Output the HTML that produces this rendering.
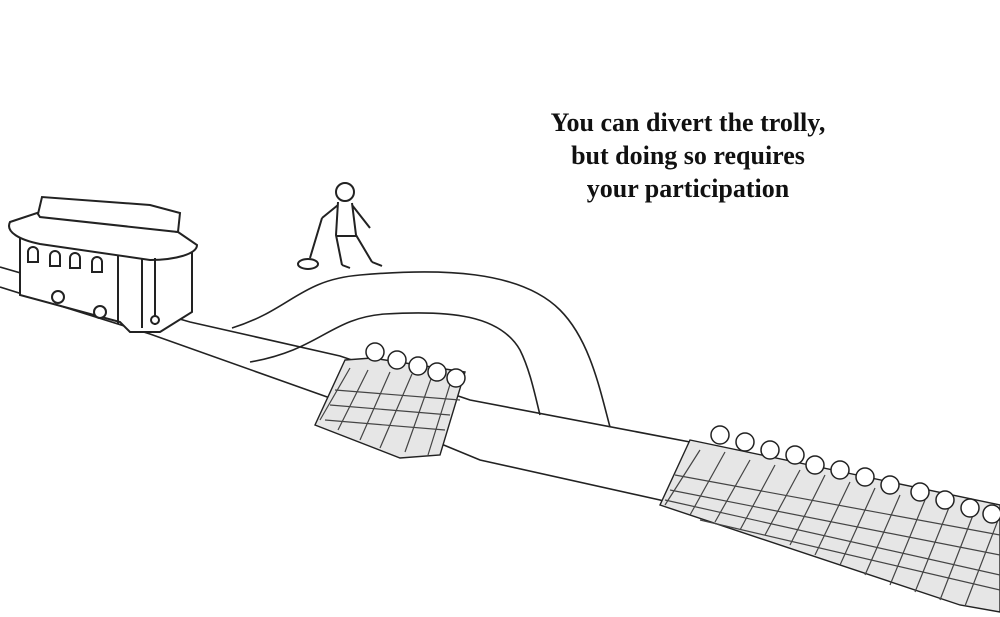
<!DOCTYPE html>
<html><head><style>
html,body{margin:0;padding:0;background:#fff;width:1000px;height:617px;overflow:hidden}
.t{position:absolute;left:473px;top:106px;width:430px;text-align:center;font-family:"Liberation Serif",serif;font-weight:bold;font-size:26px;line-height:33px;color:#111}
</style></head><body>
<svg width="1000" height="617" style="position:absolute;left:0;top:0" fill="none" stroke="#222" stroke-width="1.6">
<path d="M0,267 L190,322 L340,356 L470,400 L690,442 L1000,508"/>
<path d="M0,287 L150,334 L330,398 L480,460 L660,500 L1000,603"/>
<path d="M232,328 C290,310 300,280 360,275 C440,268 520,270 560,310 C590,340 600,390 610,427"/>
<path d="M250,362 C320,350 330,318 385,314 C450,310 500,315 520,350 C530,370 535,395 540,415"/>
<g stroke-width="2" fill="#fff">
<path d="M20,235 L20,295 L120,322 L130,332 L160,332 L192,312 L192,250 Z"/>
<path d="M10,222 C5,232 20,240 40,244 L150,260 C175,260 197,254 197,245 L178,232 L40,212 Z"/>
<path d="M38,214 L42,197 L150,205 L180,213 L178,232 L40,217 Z"/>
<path d="M118,256 L118,324 M142,258 L142,328 M155,258 L155,325"/>
<path d="M28,262 v-10 a5,5 0 0 1 10,0 v10 Z M50,266 v-10 a5,5 0 0 1 10,0 v10 Z M70,268 v-10 a5,5 0 0 1 10,0 v10 Z M92,272 v-10 a5,5 0 0 1 10,0 v10 Z"/>
<circle cx="58" cy="297" r="6"/><circle cx="100" cy="312" r="6"/><circle cx="155" cy="320" r="4"/>
</g>
<g stroke-width="2">
<circle cx="345" cy="192" r="9"/>
<path d="M338,202 L336,235 L342,265 M352,203 L356,235 L372,262 M338,205 L322,218 M352,205 L370,228 M322,218 L310,258"/>
<ellipse cx="308" cy="264" rx="10" ry="5"/>
<path d="M336,236 L356,236 M342,265 L350,268 M372,262 L382,266"/>
</g>
<g stroke-width="1.4" fill="#e6e6e6">
<path d="M345,360 L372,358 L465,372 L440,455 L400,458 L315,425 Z"/>
</g>
<g stroke="#444" stroke-width="1.2">
<path d="M350,368 L320,420 M368,370 L338,430 M390,372 L360,440 M412,374 L380,448 M432,376 L405,452 M452,378 L428,455"/>
<path d="M335,390 L460,400 M330,405 L450,415 M325,420 L445,430"/>
</g>
<g fill="#fff" stroke-width="1.5"><circle cx="375" cy="352" r="9"/><circle cx="397" cy="360" r="9"/><circle cx="418" cy="366" r="9"/><circle cx="437" cy="372" r="9"/><circle cx="456" cy="378" r="9"/></g>
<g stroke-width="1.4" fill="#e6e6e6">
<path d="M690,440 L1000,505 L1000,612 L960,605 L660,505 Z"/>
</g>
<g stroke="#444" stroke-width="1.2">
<path d="M700,450 L665,505 M725,452 L690,515 M750,460 L715,522 M775,465 L740,530 M800,470 L765,535 M825,475 L790,545 M850,482 L815,555 M875,488 L840,565 M900,495 L865,575 M925,500 L890,585 M950,505 L915,592 M975,510 L940,600 M1000,515 L965,606"/>
<path d="M675,475 L1000,535 M670,490 L1000,555 M665,500 L1000,575 M700,520 L1000,590"/>
</g>
<g fill="#fff" stroke-width="1.5"><circle cx="720" cy="435" r="9"/><circle cx="745" cy="442" r="9"/><circle cx="770" cy="450" r="9"/><circle cx="795" cy="455" r="9"/><circle cx="815" cy="465" r="9"/><circle cx="840" cy="470" r="9"/><circle cx="865" cy="477" r="9"/><circle cx="890" cy="485" r="9"/><circle cx="920" cy="492" r="9"/><circle cx="945" cy="500" r="9"/><circle cx="970" cy="508" r="9"/><circle cx="992" cy="514" r="9"/></g>
</svg>
<div class="t">You can divert the trolly,<br>but doing so requires<br>your participation</div>
</body></html>
